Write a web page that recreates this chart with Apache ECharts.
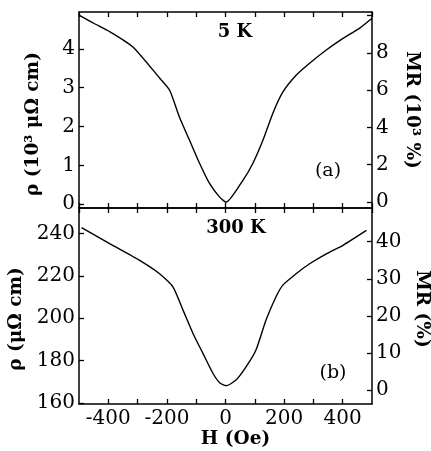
<!DOCTYPE html>
<html>
<head>
<meta charset="utf-8">
<script src="https://cdn.jsdelivr.net/npm/echarts@6/dist/echarts.min.js"></script>
<style>html,body{margin:0;padding:0;background:#fff;}#c{width:431px;height:451px;}</style>
</head>
<body>
<div id="c"></div>
<script>
// Panel (a): 5 K, resistivity in 10^3 μΩ cm
const fieldA = [-500,-450,-394,-316,-225,-191,-157,-123,-89,-55,-20,2,60,94,128,162,196,241,287,344,401,457,500];
const rhoA   = [4.87,4.66,4.44,4.05,3.25,2.94,2.24,1.65,1.06,0.54,0.18,0.05,0.62,1.06,1.65,2.35,2.89,3.32,3.63,3.97,4.27,4.53,4.79];
// Panel (b): 300 K, resistivity in μΩ cm
const fieldB = [-491,-394,-293,-225,-179,-145,-111,-77,-43,-19,2,36,70,104,138,172,195,241,287,344,401,481];
const rhoB   = [242.7,235.1,227.3,221,214.7,203.8,192.8,183.4,174,169.4,168.1,170.8,177,185,199,210,215.5,221,225.7,230.4,234.4,241.4];
const xTickLabels = [-400,-200,0,200,400];
const panelLabels = ['5 K','(a)','300 K','(b)'];

const FONT = 'DejaVu Serif';
const chart = echarts.init(document.getElementById('c'), null, {renderer:'canvas'});
const axisLine = {show:true, onZero:false, lineStyle:{color:'#000', width:1.5}};
const tickIn = {show:true, inside:true, length:5, lineStyle:{color:'#000', width:1.3}};
const lbl = {color:'#000', fontFamily:FONT, fontSize:20};
function nameStyle(pad){ return {color:'#000', fontFamily:FONT, fontSize:18.5, fontWeight:'bold', padding:pad}; }

function xAxis(gridIndex, position, showLabels){
  return {
    type:'value', gridIndex, position, min:-500, max:500, interval:100,
    axisLine, axisTick:tickIn, splitLine:{show:false},
    axisLabel: showLabels ? Object.assign({}, lbl, {margin:5, showMinLabel:false, showMaxLabel:false,
      formatter: v => xTickLabels.indexOf(v) >= 0 ? String(v) : ''}) : {show:false},
    name: showLabels ? 'H (Oe)' : '', nameLocation:'middle', nameGap:24,
    nameTextStyle: nameStyle([0,0,0,20])
  };
}
function yAxis(gridIndex, position, min, max, name, nameGap, rot, pad){
  return {
    type:'value', gridIndex, position, min, max, splitNumber:5,
    axisLine, axisTick:tickIn, splitLine:{show:false},
    axisLabel: Object.assign({}, lbl, {margin:4, showMinLabel:false, showMaxLabel:false,
      formatter: v => (position==='right' && gridIndex===0 && v>9) ? '' : String(v)}),
    name, nameLocation:'middle', nameGap, nameRotate:rot,
    nameTextStyle: nameStyle(pad)
  };
}

const option = {
  animation:false,
  backgroundColor:'#fff',
  grid:[
    {left:79, top:12, width:293, height:196, containLabel:false, outerBoundsMode:'none'},
    {left:79, top:208, width:293, height:196, containLabel:false, outerBoundsMode:'none'}
  ],
  xAxis:[
    xAxis(0,'bottom',false),
    xAxis(0,'top',false),
    xAxis(1,'bottom',true),
    xAxis(1,'top',false)
  ],
  yAxis:[
    yAxis(0,'left',-0.1,4.95,'ρ (10³ μΩ cm)',36,90,[0,28,0,0]),
    yAxis(0,'right',-0.32,10.19,'MR (10³ %)',30,-90,0),
    yAxis(1,'left',159.5,252,'ρ (μΩ cm)',46,90,[0,26,0,0]),
    yAxis(1,'right',-3.78,49.1,'MR (%)',36,-90,[0,0,0,6])
  ],
  series:[
    {type:'line', xAxisIndex:0, yAxisIndex:0, data:fieldA.map((h,i)=>[h,rhoA[i]]),
     showSymbol:false, smooth:0.2, lineStyle:{color:'#000', width:1.4}},
    {type:'line', xAxisIndex:2, yAxisIndex:2, data:fieldB.map((h,i)=>[h,rhoB[i]]),
     showSymbol:false, smooth:0.2, lineStyle:{color:'#000', width:1.4}}
  ],
  graphic:[
    {type:'text', style:{text:panelLabels[0], x:235, y:32, align:'center', verticalAlign:'middle', font:'bold 18px "DejaVu Serif"', fill:'#000'}},
    {type:'text', style:{text:panelLabels[1], x:328, y:171, align:'center', verticalAlign:'middle', font:'19px "DejaVu Serif"', fill:'#000'}},
    {type:'text', style:{text:panelLabels[2], x:236, y:228, align:'center', verticalAlign:'middle', font:'bold 18px "DejaVu Serif"', fill:'#000'}},
    {type:'text', style:{text:panelLabels[3], x:333, y:373, align:'center', verticalAlign:'middle', font:'19px "DejaVu Serif"', fill:'#000'}}
  ]
};
chart.setOption(option);
</script>
</body>
</html>
